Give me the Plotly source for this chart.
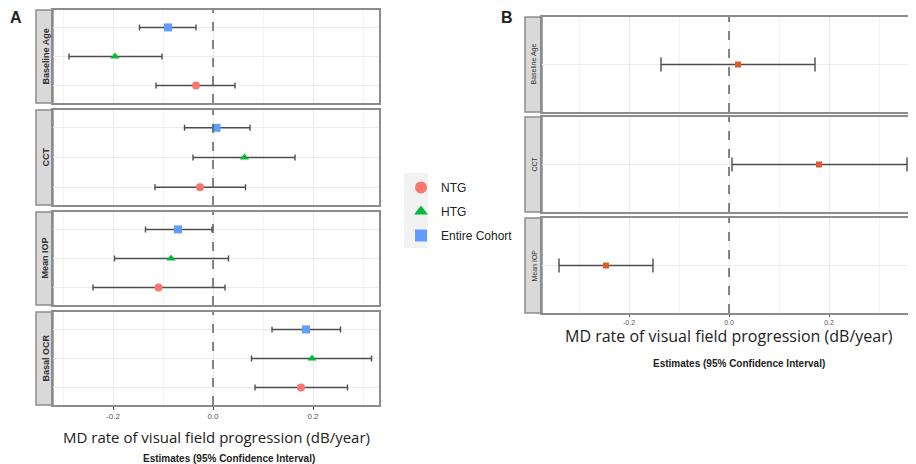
import plotly.graph_objects as go

# page offset (browser body margin) compensation
OFF = 8
W, H = 934 - OFF, 464 - OFF
def px(x): return (x - OFF) / W
def py(y): return 1 - (y - OFF) / H

# ---------------- data ----------------
groups = ["NTG", "HTG", "Entire Cohort"]
group_colors = ["#F8766D", "#00BA38", "#619CFF"]
group_symbols = ["circle", "triangle-up", "square"]

panels_a = ["Baseline Age", "CCT", "Mean IOP", "Basal OCR"]
ntg_est = [-0.034, -0.026, -0.109, 0.176]
ntg_lo = [-0.114, -0.116, -0.240, 0.084]
ntg_hi = [0.044, 0.065, 0.024, 0.269]
htg_est = [-0.196, 0.063, -0.084, 0.198]
htg_lo = [-0.288, -0.040, -0.197, 0.077]
htg_hi = [-0.102, 0.164, 0.031, 0.317]
all_est = [-0.090, 0.007, -0.070, 0.186]
all_lo = [-0.147, -0.057, -0.135, 0.118]
all_hi = [-0.034, 0.074, -0.002, 0.255]

panels_b = ["Baseline Age", "CCT", "Mean IOP"]
b_est = [0.018, 0.180, -0.246]
b_lo = [-0.136, 0.006, -0.340]
b_hi = [0.172, 0.356, -0.152]

x_ticks = [-0.2, 0.0, 0.2]
x_ticklabels = ["-0.2", "0.0", "0.2"]
x_title = "MD rate of visual field progression (dB/year)"
x_subtitle = "Estimates (95% Confidence Interval)"

# ---------------- layout geometry (pixels) ----------------
a_x = (53, 379)
a_strip_x = (36, 53)
a_y = [(10, 103), (110, 205), (212, 305), (312, 405)]
b_x = (542, 925)
b_strip_x = (525, 542)
b_y = [(17, 112), (117, 212), (218, 313)]

BORDER = "#8C8C8C"
STRIP = "#D9D9D9"
GRID = "#EBEBEB"
ERR = "#4D4D4D"

fig = go.Figure()
layout = dict(
    width=W, height=H, margin=dict(l=0, r=0, t=0, b=0),
    paper_bgcolor="white", plot_bgcolor="white",
    font=dict(family="Liberation Sans, Arial", color="#222"),
    shapes=[], annotations=[],
)

est_sets = [ntg_est, htg_est, all_est]
lo_sets = [ntg_lo, htg_lo, all_lo]
hi_sets = [ntg_hi, htg_hi, all_hi]

def axis_common():
    return dict(showline=True, mirror=True, linecolor=BORDER, linewidth=1.5,
                gridcolor=GRID, gridwidth=1, zeroline=False)

def strip(xr, yr, name, size, bold):
    layout["shapes"].append(dict(type="rect", xref="paper", yref="paper",
                                 x0=px(xr[0]), x1=px(xr[1]), y0=py(yr[1]), y1=py(yr[0]),
                                 fillcolor=STRIP, line=dict(color=BORDER, width=1.5),
                                 layer="below"))
    layout["annotations"].append(dict(xref="paper", yref="paper",
                                      x=px((xr[0] + xr[1]) / 2 + 0.5),
                                      y=py((yr[0] + yr[1]) / 2),
                                      xanchor="center", yanchor="middle",
                                      text=f"<b>{name}</b>" if bold else name,
                                      textangle=-90, showarrow=False,
                                      font=dict(size=size, color="#333")))

# ---------- panel A ----------
for i, name in enumerate(panels_a):
    n = i + 1
    xa = "x" if n == 1 else f"x{n}"
    ya = "y" if n == 1 else f"y{n}"
    xk = "xaxis" if n == 1 else f"xaxis{n}"
    yk = "yaxis" if n == 1 else f"yaxis{n}"
    bottom = (i == len(panels_a) - 1)
    layout[xk] = dict(axis_common(), domain=[px(a_x[0]), px(a_x[1])], anchor=ya,
                      range=[-0.32, 0.332], tickvals=x_ticks, ticktext=x_ticklabels,
                      showticklabels=bottom, ticks="outside" if bottom else "",
                      ticklen=3, tickcolor="#555",
                      tickfont=dict(size=8, color="#555"),
                      minor=dict(dtick=0.1, tick0=0, showgrid=True, gridcolor="#F3F3F3"))
    if n != 1:
        layout[xk]["matches"] = "x"
    layout[yk] = dict(axis_common(), domain=[py(a_y[i][1]), py(a_y[i][0])], anchor=xa,
                      type="category", categoryorder="array", categoryarray=groups,
                      range=[-0.6, 2.6], showticklabels=False, ticks="")
    for g, grp in enumerate(groups):
        e = est_sets[g][i]
        fig.add_trace(go.Scatter(
            x=[e], y=[grp], xaxis=xa, yaxis=ya, mode="markers",
            name=grp, legendgroup=grp, showlegend=(i == 0),
            marker=dict(color=group_colors[g], symbol=group_symbols[g], size=8,
                        line=dict(width=0)),
            error_x=dict(type="data", symmetric=False,
                         array=[hi_sets[g][i] - e], arrayminus=[e - lo_sets[g][i]],
                         color=ERR, thickness=1.4, width=3),
        ))
    strip(a_strip_x, a_y[i], name, 9, True)
    layout["shapes"].append(dict(type="line", xref=xa, yref=f"{ya} domain",
                                 x0=0, x1=0, y0=0, y1=1,
                                 line=dict(color="#555", width=1.4, dash="dash")))

# ---------- panel B ----------
for i, name in enumerate(panels_b):
    n = i + 5
    xa, ya = f"x{n}", f"y{n}"
    bottom = (i == len(panels_b) - 1)
    layout[f"xaxis{n}"] = dict(axis_common(), domain=[px(b_x[0]), px(b_x[1])], anchor=ya,
                               range=[-0.374, 0.392], tickvals=x_ticks, ticktext=x_ticklabels,
                               showticklabels=bottom, ticks="outside" if bottom else "",
                               ticklen=2, tickcolor="#555",
                               tickfont=dict(size=7, color="#555"),
                               minor=dict(dtick=0.1, tick0=0, showgrid=True, gridcolor="#F3F3F3"))
    if n != 5:
        layout[f"xaxis{n}"]["matches"] = "x5"
    layout[f"yaxis{n}"] = dict(axis_common(), domain=[py(b_y[i][1]), py(b_y[i][0])], anchor=xa,
                               range=[-1, 1], showticklabels=False, ticks="",
                               tickvals=[0])
    e = b_est[i]
    fig.add_trace(go.Scatter(
        x=[e], y=[0], xaxis=xa, yaxis=ya, mode="markers", showlegend=False,
        marker=dict(color="#E0592A", symbol="square", size=6),
        error_x=dict(type="data", symmetric=False, array=[b_hi[i] - e],
                     arrayminus=[e - b_lo[i]], color=ERR, thickness=1.4, width=7),
    ))
    strip(b_strip_x, b_y[i], name, 7, False)
    layout["shapes"].append(dict(type="line", xref=xa, yref=f"{ya} domain",
                                 x0=0, x1=0, y0=0, y1=1,
                                 line=dict(color="#555", width=1.4, dash="dash")))

# ---------- titles & labels ----------
def ann(x, y, text, size, bold=False, family="Open Sans, Liberation Sans", color="#222"):
    layout["annotations"].append(dict(xref="paper", yref="paper", x=px(x), y=py(y),
                                      text=f"<b>{text}</b>" if bold else text,
                                      showarrow=False, xanchor="center", yanchor="middle",
                                      font=dict(size=size, family=family, color=color)))

ann(16, 17, "A", 16, bold=True, family="Liberation Sans")
ann(507, 17, "B", 16, bold=True, family="Liberation Sans")
ann(216, 437, x_title, 15)
ann(229, 458, x_subtitle, 10, bold=True, family="Liberation Sans")
ann(729, 336, x_title, 16)
ann(739, 363, x_subtitle, 10, bold=True, family="Liberation Sans")

# legend key background
layout["shapes"].append(dict(type="rect", xref="paper", yref="paper",
                             x0=px(404), x1=px(428), y0=py(248), y1=py(173),
                             fillcolor="#F2F2F2", line=dict(width=0), layer="below"))

layout["legend"] = dict(x=px(401), y=py(173), xanchor="left", yanchor="top",
                        bgcolor="rgba(0,0,0,0)", font=dict(size=12, color="#222",
                                                           family="Liberation Sans"),
                        tracegroupgap=5, itemsizing="constant")

fig.update_layout(**layout)
fig.write_html("out.html")
